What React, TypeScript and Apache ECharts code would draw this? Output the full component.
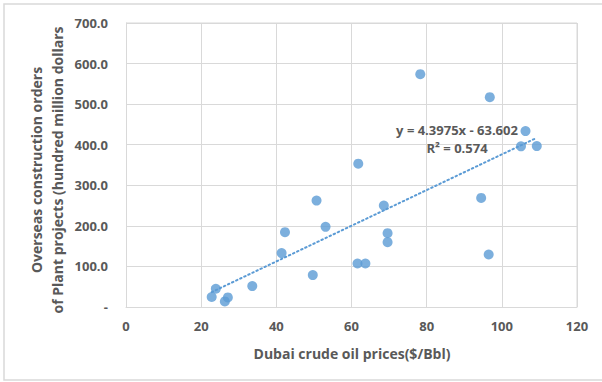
import React, { useEffect, useRef } from "react";
import * as echarts from "echarts";

const oilPrices = [22.8, 23.9, 26.3, 27.1, 33.6, 41.4, 42.3, 49.7, 50.7, 53.1, 61.6, 61.8, 63.7, 68.6, 69.6, 69.6, 78.3, 94.5, 96.5, 96.8, 105.1, 106.3, 109.3];
const orders = [24.6, 45, 13.8, 23.6, 51.6, 132.8, 184.4, 78.7, 262.2, 197.5, 107.2, 353.2, 107.2, 250, 182, 159.9, 573.8, 268.8, 129.4, 517.2, 396, 433.6, 396.7];
const slope = 4.3975;
const intercept = -63.602;
const rSquared = "0.574";
const xTitle = "Dubai crude oil prices($/Bbl)";
const yTitleLines = ["Overseas construction orders", "of Plant projects (hundred million dollars"];

const FONT = "Open Sans";
const GRAY = "#595959";
const BLUE = "#5b9bd5";

export default function App() {
  const ref = useRef<HTMLDivElement>(null);
  useEffect(() => {
    if (!ref.current) return;
    const chart = echarts.init(ref.current, undefined, { renderer: "svg" });
    const xMin = Math.min(...oilPrices);
    const xMax = Math.max(...oilPrices);
    const trend = [
      [xMin, slope * xMin + intercept],
      [xMax, slope * xMax + intercept],
    ];
    chart.setOption({
      animation: false,
      backgroundColor: "#ffffff",
      grid: { left: 126, right: 25, top: 23, bottom: 75, show: false },
      xAxis: {
        type: "value",
        min: 0,
        max: 120,
        interval: 20,
        axisLine: { show: true, lineStyle: { color: "#d9d9d9", width: 1 } },
        axisTick: { show: false },
        splitLine: { show: true, lineStyle: { color: "#d9d9d9", width: 1 } },
        axisLabel: { color: GRAY, fontFamily: FONT, fontSize: 13, fontWeight: "bold", margin: 12 },
      },
      yAxis: {
        type: "value",
        min: 0,
        max: 700,
        interval: 100,
        axisLine: { show: true, lineStyle: { color: "#d9d9d9", width: 1 } },
        axisTick: { show: false },
        splitLine: { show: true, lineStyle: { color: "#d9d9d9", width: 1 } },
        axisLabel: {
          color: GRAY,
          fontFamily: FONT,
          fontSize: 13,
          fontWeight: "bold",
          margin: 18,
          formatter: (v: number) => (v === 0 ? "-" : v.toFixed(1)),
        },
      },
      series: [
        {
          type: "scatter",
          data: oilPrices.map((x, i) => [x, orders[i]]),
          symbolSize: 10,
          itemStyle: { color: BLUE },
          z: 3,
        },
        {
          type: "line",
          data: trend,
          showSymbol: false,
          symbol: "none",
          lineStyle: { color: BLUE, width: 2, type: [1.5, 3], cap: "round" },
          z: 2,
        },
      ],
      graphic: [
        {
          type: "rect",
          shape: { x: 4, y: 4, width: 640, height: 376 },
          style: { fill: "none", stroke: "#d9d9d9", lineWidth: 1.5 },
          silent: true,
        },
        {
          type: "line",
          shape: { x1: 577, y1: 23, x2: 577, y2: 307 },
          style: { stroke: "#d9d9d9", lineWidth: 1 },
          silent: true,
        },
        {
          type: "line",
          shape: { x1: 126, y1: 23, x2: 577, y2: 23 },
          style: { stroke: "#d9d9d9", lineWidth: 1 },
          silent: true,
        },
        {
          type: "text",
          x: 352,
          y: 353,
          style: {
            text: xTitle,
            fill: GRAY,
            font: `bold 14px "${FONT}"`,
            align: "center",
            verticalAlign: "middle",
          },
        },
        {
          type: "text",
          x: 47,
          y: 170,
          rotation: Math.PI / 2,
          style: {
            text: yTitleLines.join("\n"),
            fill: GRAY,
            font: `bold 14px "${FONT}"`,
            align: "center",
            verticalAlign: "middle",
            lineHeight: 21,
          },
        },
        {
          type: "text",
          x: 457,
          y: 139,
          style: {
            text: `y = ${slope}x - ${Math.abs(intercept)}\nR² = ${rSquared}`,
            fill: GRAY,
            font: `bold 13px "${FONT}"`,
            align: "center",
            verticalAlign: "middle",
            lineHeight: 18,
          },
          z: 10,
        },
      ],
    });
    return () => chart.dispose();
  }, []);
  return (
    <div
      ref={ref}
      style={{ position: "fixed", left: 0, top: 0, width: 602, height: 382, background: "#fff" }}
    />
  );
}
